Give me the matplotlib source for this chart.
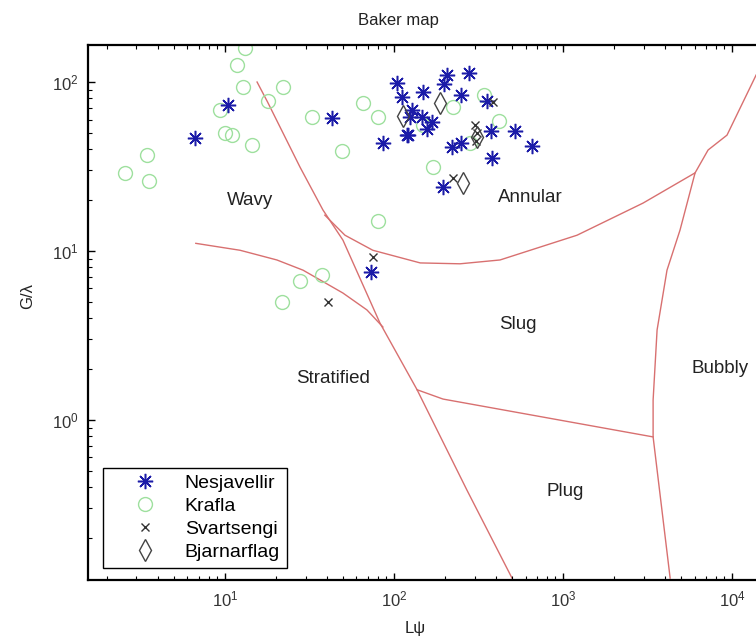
import matplotlib
matplotlib.use("Agg")
import matplotlib.pyplot as plt

plt.rcParams['font.family'] = ['Liberation Sans', 'DejaVu Sans']
plt.rcParams['mathtext.fontset'] = 'custom'
plt.rcParams['mathtext.rm'] = 'Liberation Sans'

# ---------------- data ----------------
nes_x = [6.64, 10.4, 43, 86, 104, 111, 121, 148, 206, 198, 278, 249, 128, 124, 147, 168, 157, 119,
         220, 249, 355, 375, 520, 656, 380, 195, 73]
nes_y = [46.7, 73, 61, 43.6, 98.6, 81, 48.5, 87, 110, 97, 113, 84, 68, 62, 62, 58, 53, 48.5,
         41, 43.6, 77, 51, 51, 41.8, 35.5, 24, 7.5]

kra_x = [2.56, 3.45, 3.55, 9.3, 10, 11, 11.8, 12.8, 13.1, 14.4, 17.9, 22, 32.7, 49, 65.6, 81, 81,
         148, 170, 224, 281, 341, 418, 21.7, 28, 37.5]
kra_y = [28.9, 37, 25.9, 68, 50, 48.5, 126, 93, 159, 42.4, 77, 93, 62, 39, 75, 62, 15,
         56, 31.4, 71, 43.6, 84, 59, 5.0, 6.6, 7.2]

sva_x = [386, 301, 310, 305, 224, 75, 40.6]
sva_y = [76, 56, 50, 45, 27, 9.2, 5.0]

bja_x = [187, 113, 309, 256]
bja_y = [75, 63, 47, 25.2]

series_names = ['Nesjavellir', 'Krafla', 'Svartsengi', 'Bjarnarflag']

# flow-regime boundaries of the Baker map
b1_x = [15.5, 17.9, 27.8, 38, 49.9, 82.6, 137, 147, 270, 499]
b1_y = [100, 76, 31.4, 17.5, 11.6, 3.75, 1.51, 1.31, 0.385, 0.116]
b2_x = [6.73, 12.3, 20.3, 29, 49.9, 69.2, 86]
b2_y = [11.1, 10.1, 8.85, 7.7, 5.64, 4.48, 3.55]
b3_x = [39, 51.3, 75, 143, 246, 424, 1210, 2970, 6040]
b3_y = [16.3, 12.4, 10.1, 8.5, 8.4, 8.85, 12.4, 19.2, 29]
b4_x = [13870, 9330, 7210, 6040, 4920, 4120, 3600, 3410, 3410, 4300]
b4_y = [110, 48.5, 39.6, 29, 13.3, 7.7, 3.41, 1.31, 0.794, 0.116]
b5_x = [137, 195, 3410]
b5_y = [1.51, 1.33, 0.794]

region_names = ['Wavy', 'Annular', 'Slug', 'Stratified', 'Bubbly', 'Plug']
region_x = [14.1, 638, 542, 43.5, 8490, 1028]
region_y = [20.0, 20.6, 3.65, 1.77, 2.03, 0.375]

# ---------------- figure ----------------
W, H = 756, 640
fig = plt.figure(figsize=(W / 100, H / 100), dpi=100)
ax = fig.add_axes([88 / W, (H - 580) / H, 695 / W, 535 / H])
ax.set_xscale('log')
ax.set_yscale('log')
ax.set_xlim(1.55, 2.0e4)
ax.set_ylim(0.113, 165.6)

lc = '#d87070'
for bx, by in [(b1_x, b1_y), (b2_x, b2_y), (b3_x, b3_y), (b4_x, b4_y), (b5_x, b5_y)]:
    ax.plot(bx, by, color=lc, lw=1.0, zorder=1)

ax.plot(nes_x, nes_y, ls='none', marker=(8, 2, 0), ms=11, mew=1.1, color='#1c1ca8',
        label=series_names[0], zorder=3)
ax.plot(kra_x, kra_y, ls='none', marker='o', ms=10, mew=1.0, mfc='none', mec='#9ee09e',
        label=series_names[1], zorder=2)
ax.plot(sva_x, sva_y, ls='none', marker='x', ms=6, mew=1.0, color='#333333',
        label=series_names[2], zorder=4)
ax.plot(bja_x, bja_y, ls='none', marker='d', ms=11, mew=1.0, mfc='none', mec='#444444',
        label=series_names[3], zorder=4)

for name, x, y in zip(region_names, region_x, region_y):
    ax.text(x, y, name, ha='center', va='center', fontsize=13.5, color='#222222', zorder=5)

ax.tick_params(which='both', direction='in', top=True, right=True, labelsize=12, colors='black')
ax.tick_params(which='major', length=5, width=1.0, pad=7)
ax.tick_params(which='minor', length=3, width=0.8)
for lbl in ax.get_xticklabels() + ax.get_yticklabels():
    lbl.set_color('#333333')
for s in ax.spines.values():
    s.set_linewidth(1.6)

leg = ax.legend(loc='lower left', bbox_to_anchor=(15 / 695, 12 / 535), borderaxespad=0,
                fontsize=14, frameon=True, fancybox=False, framealpha=1, edgecolor='black',
                handlelength=3.6, handletextpad=0.25, labelspacing=0.28, borderpad=0.35)
leg.get_frame().set_linewidth(1.0)

fig.text(398 / W, 1 - 20 / H, 'Baker map', ha='center', va='center', fontsize=12, color='#222222')
fig.text(415 / W, 1 - 628 / H, 'L\u03c8', ha='center', va='center', fontsize=12, color='#222222')
fig.text(28 / W, 1 - 296 / H, 'G/\u03bb', ha='center', va='center', rotation=90, fontsize=12,
         color='#222222')

fig.savefig('out.png', dpi=100)
